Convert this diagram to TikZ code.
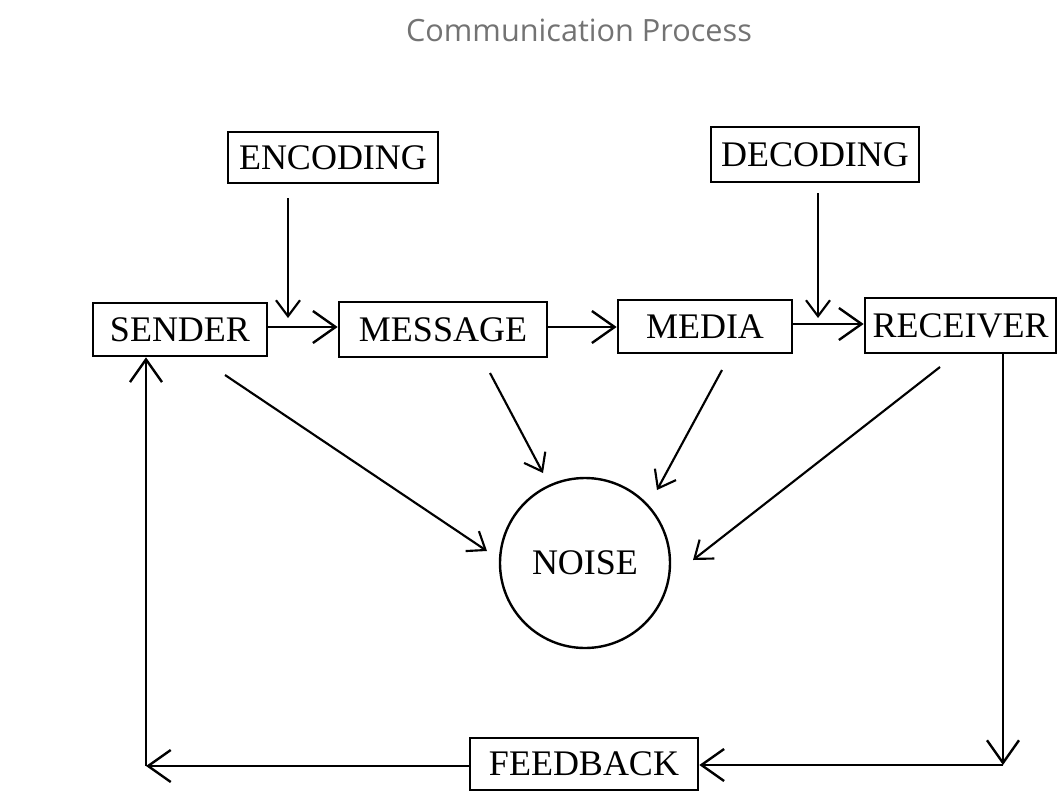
\documentclass[tikz,border=0pt]{standalone}
\usepackage{fontspec}
\setmainfont{Liberation Serif}
\newfontfamily\titlefont{Open Sans}
\usetikzlibrary{arrows.meta}
\begin{document}
\begin{tikzpicture}[x=0.75pt,y=-0.75pt,
  box/.style={draw=black,line width=2pt,inner sep=0pt,fill=white,font=\fontsize{27}{30}\selectfont},
  arr/.style={draw=black,line width=1.6pt,-{Straight Barb[length=12pt,width=18pt,line width=1.6pt]}},
  bigarr/.style={draw=black,line width=1.6pt,-{Straight Barb[length=17pt,width=24pt,line width=1.8pt]}},
  ln/.style={draw=black,line width=1.6pt}]
\fill[white] (0,0) rectangle (1061,790);
\useasboundingbox (0,0) rectangle (1061,790);

\node[font=\titlefont\fontsize{23}{26}\selectfont,text=black!55] (title) at (579,30) {Communication Process};

\node[box,minimum width=157.5pt,minimum height=38.25pt] (enc) at (333,157.5) {ENCODING};
\node[box,minimum width=156pt,minimum height=41.25pt] (dec) at (815,154.5) {DECODING};
\node[box,minimum width=130.5pt,minimum height=39.75pt] (sender) at (180,329.5) {SENDER};
\node[box,minimum width=156pt,minimum height=41.25pt] (msg) at (443,329.5) {MESSAGE};
\node[box,minimum width=130.5pt,minimum height=39.75pt] (media) at (705,326.5) {MEDIA};
\node[box,minimum width=143.25pt,minimum height=41.25pt] (recv) at (960.5,325.5) {RECEIVER};
\node[box,circle,minimum size=127.5pt,line width=1.8pt] (noise) at (585,563) {NOISE};
\node[box,minimum width=171pt,minimum height=39pt] (fb) at (584,764) {FEEDBACK};

% main chain
\draw[bigarr] (sender.east |- 0,327) -- (msg.west |- 0,327);
\draw[bigarr] (msg.east |- 0,327) -- (media.west |- 0,327);
\draw[bigarr] (media.east |- 0,324) -- (recv.west |- 0,324);

% encoding / decoding
\coordinate (encA) at (288,198);
\coordinate (encB) at (288,318);
\draw[arr] (encA) -- (encB);
\coordinate (decA) at (818,193);
\coordinate (decB) at (818,318);
\draw[arr] (decA) -- (decB);

% noise arrows
\coordinate (nsA) at (225,375);  \coordinate (nsB) at (487,551);
\coordinate (nmA) at (490,373);  \coordinate (nmB) at (543,473);
\coordinate (ndA) at (722,370);  \coordinate (ndB) at (657,490);
\coordinate (nrA) at (940,367);  \coordinate (nrB) at (693,560);
\draw[arr] (nsA) -- (nsB);
\draw[arr] (nmA) -- (nmB);
\draw[arr] (ndA) -- (ndB);
\draw[arr] (nrA) -- (nrB);

% feedback loop
\coordinate (rc) at (1003,765);
\coordinate (lc) at (146,766);
\draw[bigarr] (recv.south -| rc) -- (rc);
\draw[bigarr] (rc) -- (fb.east |- rc);
\draw[bigarr] (fb.west |- lc) -- (lc);
\draw[bigarr] (lc) -- (sender.south -| lc);
\end{tikzpicture}
\end{document}
